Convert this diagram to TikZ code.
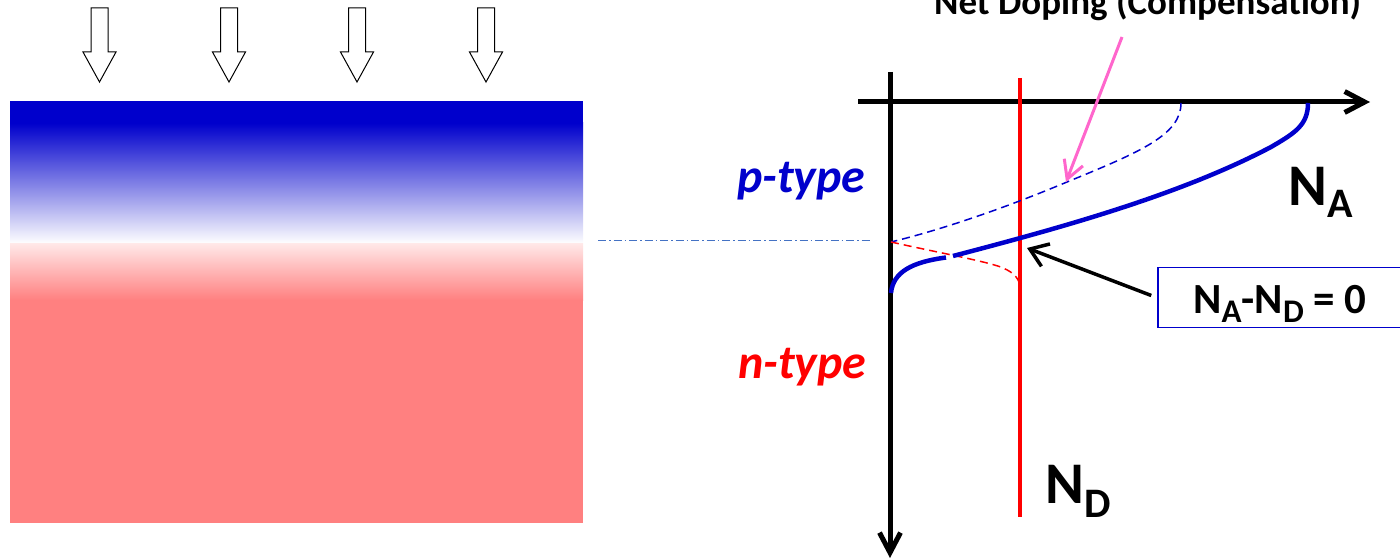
\documentclass[tikz,border=0pt]{standalone}
\usepackage{fontspec}
\setmainfont{Carlito}
\usetikzlibrary{arrows.meta}
\definecolor{dblue}{RGB}{0,0,204}
\definecolor{salmon}{RGB}{255,128,128}
\definecolor{lpink}{RGB}{255,232,232}
\definecolor{ddblue}{RGB}{68,114,196}
\definecolor{pinkar}{RGB}{255,102,204}
\definecolor{pred}{RGB}{255,0,0}
\begin{document}
\begin{tikzpicture}[x=1pt,y=-1pt,
  axisline/.style={line width=5pt,black,-{Straight Barb[length=20pt,width=21pt]}},
  blockarrow/.style={draw=black,line width=1pt,fill=white,line join=miter},
  dcurve/.style={line width=1.5pt,dash pattern=on 8pt off 5pt},
  lbl/.style={anchor=base west,inner sep=0pt},
]
\useasboundingbox (0,0) rectangle (1400,559);
% left block with doping gradient
\fill[dblue] (10,101) rectangle (583,124);
\shade[top color=dblue,middle color=dblue!55!white,bottom color=white] (10,123) rectangle (583,243.5);
\shade[top color=lpink,bottom color=salmon] (10,243.5) rectangle (583,300);
\fill[salmon] (10,299.5) rectangle (583,523);
% implant arrows
\foreach \cx in {99.5,229,357,486}{
  \draw[blockarrow] ({\cx-8.5},8) -- ({\cx+8.5},8) -- ({\cx+8.5},52) -- ({\cx+16.5},52)
    -- (\cx,82) -- ({\cx-16.5},52) -- ({\cx-8.5},52) -- cycle;
}
% junction line
\coordinate (jl) at (598,240);
\coordinate (jr) at (870,240);
\draw[ddblue,line width=1pt,dash pattern=on 8pt off 3pt on 1.5pt off 3pt] (jl) -- (jr);
% axes
\coordinate (h0) at (858,102);
\coordinate (h1) at (1370,102);
\coordinate (v0) at (890,72);
\coordinate (v1) at (890,558);
\draw[axisline] (h0) -- (h1);
\draw[axisline] (v0) -- (v1);
% N_D line
\coordinate (nd0) at (1020,78);
\coordinate (nd1) at (1020,517);
\draw[pred,line width=4pt] (nd0) -- (nd1);
% dashed profiles
\draw[dcurve,dblue] (1181,103) .. controls (1181,135) and (1140,152) .. (1067,182)
   .. controls (1000,210) and (940,230) .. (891,242);
\draw[dcurve,pred] (891,242) .. controls (940,253) and (990,262) .. (1003,268)
   .. controls (1015,273) and (1020,280) .. (1020,288);
% net doping (solid)
\draw[dblue,line width=4.5pt] (1308,103) .. controls (1308,125) and (1295,133) .. (1271,147)
   .. controls (1180,195) and (1060,228) .. (953,256);
\draw[dblue,line width=4.5pt] (946,257.5) .. controls (912,262) and (893,272) .. (891,293);
% texts
\node[lbl,font=\fontsize{37}{37}\selectfont\bfseries] (title) at (934,15) {Net Doping (Compensation)};
\node[lbl,text=dblue,font=\fontsize{48}{48}\selectfont\bfseries\itshape] (ptype) at (737,192) {p-type};
\node[lbl,text=pred,font=\fontsize{48}{48}\selectfont\bfseries\itshape] (ntype) at (738,378) {n-type};
\node[lbl,font=\fontsize{59}{59}\selectfont\bfseries] (na) at (1288,205) {N\raisebox{-12pt}{\fontsize{42}{42}\selectfont A}};
\node[lbl,font=\fontsize{59}{59}\selectfont\bfseries] (nd) at (1045,503) {N\raisebox{-14pt}{\fontsize{42}{42}\selectfont D}};
\node[draw=dblue,line width=1.5pt,minimum width=244pt,minimum height=60pt,
  text height=36pt,text depth=4pt,inner sep=0pt,font=\fontsize{43}{43}\selectfont\bfseries]
  (box) at (1280,297.5) {N\raisebox{-9pt}{\fontsize{33}{33}\selectfont A}-N\raisebox{-9pt}{\fontsize{33}{33}\selectfont D} = 0};
% pointers
\coordinate (pinkstart) at (1122,37);
\coordinate (pinktip) at (1066,182);
\draw[pinkar,line width=3pt,-{Straight Barb[length=18pt,width=20pt]}] (pinkstart) -- (pinktip);
\coordinate (natip) at (1027,248);
\draw[black,line width=3.5pt,-{Straight Barb[length=17pt,width=24pt]}] ([xshift=-6pt,yshift=2pt]box.west) -- (natip);
\end{tikzpicture}
\end{document}
